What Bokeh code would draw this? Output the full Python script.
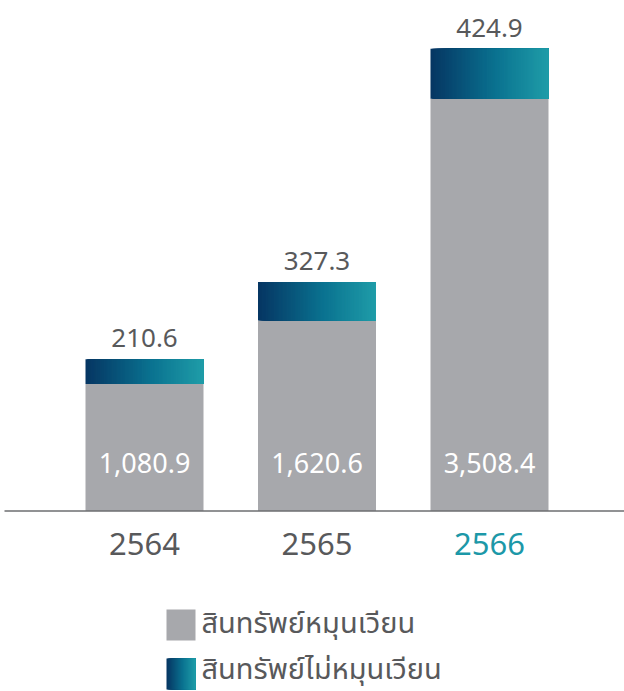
from bokeh.plotting import figure
from bokeh.models import Range1d, ColumnDataSource
from bokeh.core.properties import value
from bokeh.embed import file_html
from bokeh.resources import INLINE

# ---- data ----
years = ["2564", "2565", "2566"]
current_assets = [1080.9, 1620.6, 3508.4]
noncurrent_assets = [210.6, 327.3, 424.9]
current_labels = ["1,080.9", "1,620.6", "3,508.4"]
noncurrent_labels = ["210.6", "327.3", "424.9"]
year_colors = ["#58595b", "#58595b", "#1c98a8"]
legend_labels = ["สินทรัพย์หมุนเวียน", "สินทรัพย์ไม่หมุนเวียน"]

# ---- layout constants (pixels) ----
W, H = 624, 691
BASE_PX = 510.5
PPU_Y = 0.1175
PPU_X = 172.5
X0_PX = 144.0
BAR_W = 118 / PPU_X

def px_x(px):
    return (px - X0_PX) / PPU_X

def px_y(py):
    return (BASE_PX - py) / PPU_Y

GRAY = "#a7a8ac"
TEXT = "#58595b"
NUM_FONT = value("Noto Sans")
THAI_FONT = value("Noto Sans Thai, Noto Sans, sans-serif")

stops = [(0.0, (6, 54, 99)), (0.55, (10, 114, 144)), (1.0, (31, 156, 168))]

def grad(t):
    for (t0, c0), (t1, c1) in zip(stops[:-1], stops[1:]):
        if t <= t1:
            f = (t - t0) / (t1 - t0)
            c = [round(a + (b - a) * f) for a, b in zip(c0, c1)]
            return "#%02x%02x%02x" % tuple(c)
    return "#%02x%02x%02x" % stops[-1][1]

p = figure(width=W, height=H, output_backend="svg", toolbar_location=None,
           x_range=Range1d(-X0_PX / PPU_X, (W - X0_PX) / PPU_X),
           y_range=Range1d(-(H - BASE_PX) / PPU_Y, BASE_PX / PPU_Y),
           min_border=0, outline_line_color=None, background_fill_color="white")
p.axis.visible = False
p.grid.visible = False

idx = list(range(len(years)))

# current assets (gray)
p.vbar(x=idx, top=current_assets, bottom=0, width=BAR_W, fill_color=GRAY, line_color=None)

# non-current assets (gradient via overlapping strips)
N = 90
L, R, B, T, C = [], [], [], [], []
for i in idx:
    left = i - BAR_W / 2
    right = i + BAR_W / 2
    for j in range(N):
        L.append(left + j * BAR_W / N)
        R.append(right)
        B.append(current_assets[i])
        T.append(current_assets[i] + noncurrent_assets[i])
        C.append(grad(j / (N - 1)))
p.quad(source=ColumnDataSource(dict(left=L, right=R, bottom=B, top=T, color=C)),
       left="left", right="right", bottom="bottom", top="top",
       fill_color="color", line_color=None)

# baseline
p.segment(x0=[px_x(4)], x1=[px_x(624)], y0=[0], y1=[0], line_color="#6d6e71", line_width=1.6)

# value labels
totals = [a + b for a, b in zip(current_assets, noncurrent_assets)]
p.text(x=idx, y=totals, text=noncurrent_labels, text_font=NUM_FONT, text_font_size="26px",
       text_color=TEXT, text_align="center", text_baseline="alphabetic", y_offset=-21)
p.text(x=idx, y=[0] * 3, text=current_labels, text_font=NUM_FONT, text_font_size="27px",
       text_color="white", text_align="center", text_baseline="alphabetic", y_offset=-48)

# category labels
p.text(x=idx, y=[0] * 3, text=years, text_font=NUM_FONT, text_font_size="31px",
       text_color=year_colors, text_align="center", text_baseline="alphabetic", y_offset=33)

# legend
p.quad(left=[px_x(166)], right=[px_x(195)], top=[px_y(609)], bottom=[px_y(640)],
       fill_color=GRAY, line_color=None)
M = 30
LL, LR, LC = [], [], []
for j in range(M):
    LL.append(px_x(166 + j * 29 / M))
    LR.append(px_x(195))
    LC.append(grad(j / (M - 1)))
p.quad(source=ColumnDataSource(dict(left=LL, right=LR, color=LC,
                                    top=[px_y(658)] * M, bottom=[px_y(689)] * M)),
       left="left", right="right", top="top", bottom="bottom", fill_color="color", line_color=None)
p.text(x=[px_x(201)] * 2, y=[px_y(623), px_y(669)], text=legend_labels, text_font=THAI_FONT,
       text_font_size="29px", text_color=TEXT, text_align="left", text_baseline="alphabetic")

open("out.html", "w").write(file_html(p, INLINE))
